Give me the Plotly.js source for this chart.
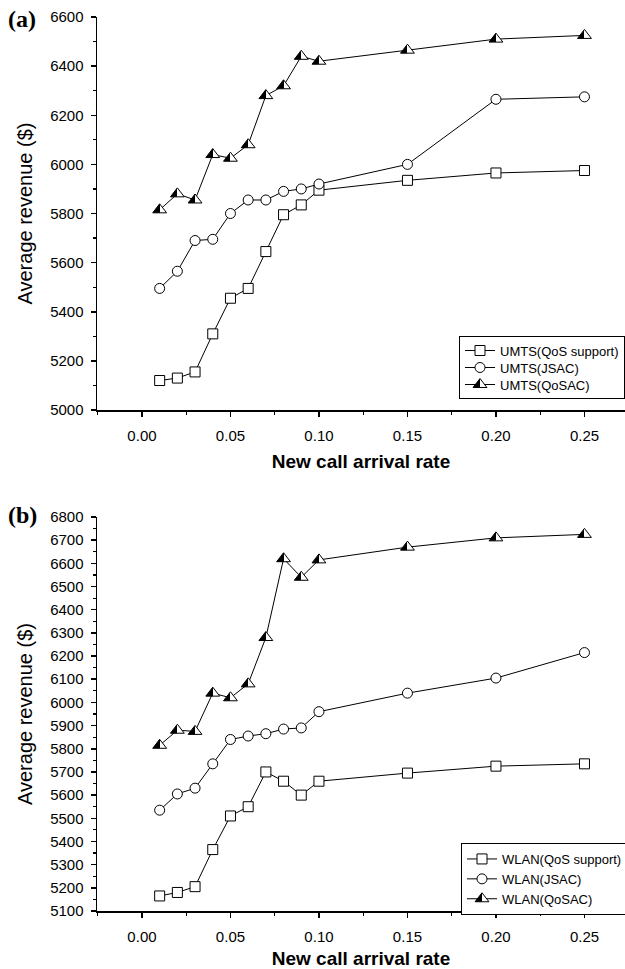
<!DOCTYPE html>
<html>
<head>
<meta charset="utf-8">
<script src="https://cdn.plot.ly/plotly-3.0.1.min.js"></script>
<style>html,body{margin:0;padding:0;background:#fff}#gd{width:625px;height:969px}</style>
</head>
<body>
<div id="gd"></div>
<script>
// ---- data ----
var rates = [0.01, 0.02, 0.03, 0.04, 0.05, 0.06, 0.07, 0.08, 0.09, 0.10, 0.15, 0.20, 0.25];

var umtsQoS   = [5120, 5130, 5155, 5310, 5455, 5495, 5645, 5795, 5835, 5895, 5935, 5965, 5975];
var umtsJSAC  = [5495, 5565, 5690, 5695, 5800, 5855, 5855, 5890, 5900, 5920, 6000, 6265, 6275];
var umtsQoSAC = [5815, 5880, 5855, 6040, 6025, 6080, 6280, 6320, 6440, 6420, 6465, 6510, 6525];

var wlanQoS   = [5165, 5180, 5205, 5365, 5510, 5550, 5700, 5660, 5600, 5660, 5695, 5725, 5735];
var wlanJSAC  = [5535, 5605, 5630, 5735, 5840, 5855, 5865, 5885, 5890, 5960, 6040, 6105, 6215];
var wlanQoSAC = [5815, 5880, 5875, 6040, 6020, 6080, 6280, 6620, 6540, 6615, 6670, 6710, 6725];

var namesA = ['UMTS(QoS support)', 'UMTS(JSAC)', 'UMTS(QoSAC)'];
var namesB = ['WLAN(QoS support)', 'WLAN(JSAC)', 'WLAN(QoSAC)'];
var xTickVals = [0.00, 0.05, 0.10, 0.15, 0.20, 0.25];
var xTickText = ['0.00', '0.05', '0.10', '0.15', '0.20', '0.25'];

// ---- styles ----
var FONT = 'Arial, "Liberation Sans", Helvetica, sans-serif';
function mk(sym, tri) {
  var m = {symbol: sym, size: 10, color: '#ffffff', line: {color: '#000', width: 1}};
  if (tri) { m.size = 12; m.color = '#000'; m.gradient = {type: 'horizontal', color: '#ffffff'}; }
  return m;
}
function tr(y, name, sym, tri, xa, ya, leg) {
  return {x: rates, y: y, name: name, type: 'scatter', mode: 'lines+markers',
          line: {color: '#000', width: 1}, marker: mk(sym, tri),
          xaxis: xa, yaxis: ya, legend: leg};
}
var data = [
  tr(umtsQoS,   namesA[0], 'square',      false, 'x',  'y',  'legend'),
  tr(umtsJSAC,  namesA[1], 'circle',      false, 'x',  'y',  'legend'),
  tr(umtsQoSAC, namesA[2], 'triangle-up', true,  'x',  'y',  'legend'),
  tr(wlanQoS,   namesB[0], 'square',      false, 'x2', 'y2', 'legend2'),
  tr(wlanJSAC,  namesB[1], 'circle',      false, 'x2', 'y2', 'legend2'),
  tr(wlanQoSAC, namesB[2], 'triangle-up', true,  'x2', 'y2', 'legend2')
];

function xax(anchor) {
  return {domain: [97/625, 1], range: [-0.0254, 0.2729], anchor: anchor, automargin: false,
    showline: true, linecolor: '#000', linewidth: 1.5, showgrid: false, zeroline: false,
    ticks: 'outside', ticklen: 5, tickwidth: 1.5, tickcolor: '#000',
    tickvals: xTickVals, ticktext: xTickText, ticklabelstandoff: 6,
    minor: {dtick: 0.025, tick0: 0, ticks: 'outside', ticklen: 3, tickwidth: 1.2, tickcolor: '#000', showgrid: false},
    tickfont: {family: FONT, size: 15, color: '#000'},
    title: {text: 'New call arrival rate', font: {family: FONT, size: 19, color: '#000', weight: 'bold'}, standoff: 12}};
}
function yax(anchor, dom, rng, dt, mdt) {
  return {domain: dom, range: rng, anchor: anchor, automargin: false,
    showline: true, linecolor: '#000', linewidth: 1.5, showgrid: false, zeroline: false,
    ticks: 'outside', ticklen: 5, tickwidth: 1.5, tickcolor: '#000', dtick: dt, tick0: 0,
    minor: {dtick: mdt, tick0: 0, ticks: 'outside', ticklen: 3, tickwidth: 1.2, tickcolor: '#000', showgrid: false},
    tickfont: {family: FONT, size: 15, color: '#000'}, ticklabelstandoff: 4,
    title: {text: 'Average revenue ($)', font: {family: FONT, size: 20, color: '#000'}, standoff: 12}};
}
function leg(x, ytop) {
  return {x: x, y: ytop, xanchor: 'left', yanchor: 'top', bordercolor: '#000', borderwidth: 1,
          bgcolor: '#fff', font: {family: FONT, size: 13, color: '#000'}, tracegroupgap: 0, itemwidth: 30};
}

var layout = {
  width: 625, height: 969, margin: {l: 0, r: 0, t: 0, b: 0, autoexpand: false},
  paper_bgcolor: '#fff', plot_bgcolor: '#fff',
  xaxis:  xax('y'),
  yaxis:  yax('x',  [1 - 410/969, 1 - 17/969], [5000, 6600], 200, 100),
  xaxis2: xax('y2'),
  yaxis2: yax('x2', [1 - 911/969, 1 - 517/969], [5100, 6800], 100, 50),
  legend:  leg(459/625, 1 - 336/969),
  legend2: leg(461/625, 1 - 843/969),
  annotations: [
    {text: '<b>(a)</b>', xref: 'paper', yref: 'paper', x: 6/625, y: 1 - 4/969, xanchor: 'left', yanchor: 'top',
     showarrow: false, font: {family: '"Liberation Serif", "Times New Roman", serif', size: 24, color: '#000'}},
    {text: '<b>(b)</b>', xref: 'paper', yref: 'paper', x: 6/625, y: 1 - 500/969, xanchor: 'left', yanchor: 'top',
     showarrow: false, font: {family: '"Liberation Serif", "Times New Roman", serif', size: 24, color: '#000'}}
  ],
  showlegend: true
};

function sharpen(gd) {
  gd.querySelectorAll('linearGradient').forEach(function (g) {
    g.setAttribute('x1', '0'); g.setAttribute('y1', '0');
    g.setAttribute('x2', '1'); g.setAttribute('y2', '0');
    while (g.firstChild) g.removeChild(g.firstChild);
    [['0', '#000'], ['0.5', '#000'], ['0.5', '#fff'], ['1', '#fff']].forEach(function (s) {
      var st = document.createElementNS('http://www.w3.org/2000/svg', 'stop');
      st.setAttribute('offset', s[0]);
      st.setAttribute('stop-color', s[1]);
      g.appendChild(st);
    });
  });
}
// tighten the legend rows (the reference uses ~17px row spacing)
function tightenLegends(gd, rowGap) {
  gd.querySelectorAll('g.legend').forEach(function (lg) {
    var items = lg.querySelectorAll('g.traces');
    if (items.length < 2) return;
    var ys = [], xs = [];
    items.forEach(function (it) {
      var m = /translate\(\s*([-\d.]+)[ ,]+([-\d.]+)\s*\)/.exec(it.getAttribute('transform') || '');
      xs.push(m ? +m[1] : 0); ys.push(m ? +m[2] : 0);
    });
    var oldGap = ys[1] - ys[0];
    var saved = (oldGap - rowGap) * (items.length - 1);
    var y0 = ys[0] - (oldGap - rowGap) / 2;
    items.forEach(function (it, i) {
      it.setAttribute('transform', 'translate(' + xs[i] + ',' + (y0 + i * rowGap) + ')');
    });
    var bg = lg.querySelector('rect.bg');
    if (bg) bg.setAttribute('height', (+bg.getAttribute('height') - saved - (oldGap - rowGap)));
  });
}
var gd = document.getElementById('gd');
Plotly.newPlot(gd, data, layout, {staticPlot: true}).then(function () {
  sharpen(gd);
  tightenLegends(gd, 17);
});
</script>
</body>
</html>
